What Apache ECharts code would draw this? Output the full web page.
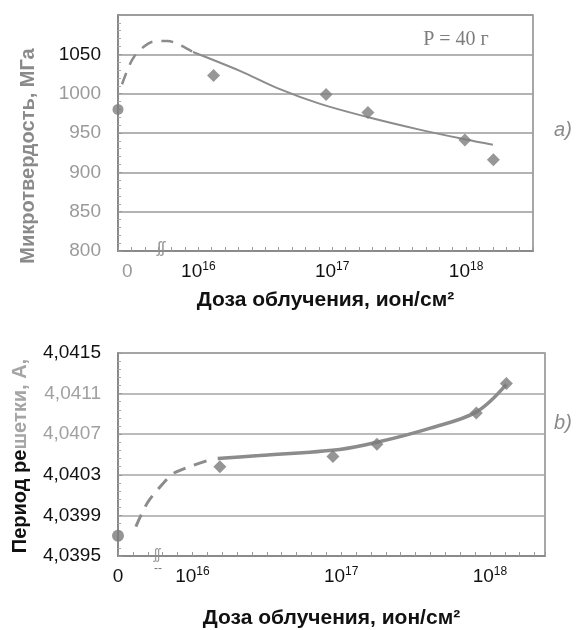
<!DOCTYPE html>
<html><head><meta charset="utf-8">
<script src="https://cdn.jsdelivr.net/npm/echarts@6/dist/echarts.min.js"></script>
<style>html,body{margin:0;padding:0;background:#fff}#c{width:578px;height:630px}</style>
</head><body><div id="c"></div><script>
// ---- Chart a): microhardness vs dose ----
const hardDose = [1.3e16, 9e16, 1.85e17, 9.8e17, 1.6e18];
const hardValue = [1023, 999, 976, 941, 916];
const hardZeroValue = 980;
const hardFitDashedLogDose = [15.43, 15.48, 15.52, 15.58, 15.66, 15.77, 15.86, 15.96];
const hardFitDashedValue = [1012, 1034, 1047, 1058, 1066, 1067, 1062, 1053];
const hardFitSolidLogDose = [15.96, 16.31, 16.59, 16.91, 17.27, 17.66, 17.99, 18.20];
const hardFitSolidValue = [1053, 1029, 1007, 987, 970, 954, 942, 935];

// ---- Chart b): lattice period vs dose ----
const latDose = [1.53e16, 8.8e16, 1.74e17, 8.1e17, 1.29e18];
const latValue = [4.04038, 4.04048, 4.04060, 4.04091, 4.04120];
const latZeroValue = 4.03970;
const latFitDashedLogDose = [15.62, 15.70, 15.83, 15.88, 15.98, 16.12];
const latFitDashedValue = [4.03979, 4.04003, 4.04026, 4.04032, 4.04038, 4.04045];
const latFitSolidLogDose = [16.17, 16.45, 16.99, 17.24, 17.60, 17.91, 18.11];
const latFitSolidValue = [4.04046, 4.04049, 4.04055, 4.04062, 4.04076, 4.04092, 4.04119];

// tick labels
const doseExponents = [16, 17, 18];
const hardTickLabels = ['800', '850', '900', '950', '1000', '1050'];
const latTickLabels = ['4,0395', '4,0399', '4,0403', '4,0407', '4,0411', '4,0415'];

// axis layout (log10 of dose; "0" dose drawn at the broken start of the axis)
const TOP_X_MIN = 15.4, TOP_X_MAX = 18.5, TOP_ZERO_LABEL = 15.47;
const BOT_X_MIN = 15.5, BOT_X_MAX = 18.37, BOT_ZERO_LABEL = 15.5;

const pts = (xs, ys) => xs.map((x, i) => [x, ys[i]]);
const logPts = (ds, ys) => ds.map((d, i) => [Math.log10(d), ys[i]]);

const GRAY = '#8a8a8a';
const FONT = '"Liberation Sans", Arial, sans-serif';

function xAxisFor(gridIndex, min, max, zeroLabel, zeroColor, gap) {
  return {
    type: 'value', gridIndex, min, max, interval: 0.1,
    name: 'Доза облучения, ион/см²', nameLocation: 'middle', nameGap: gap,
    nameTextStyle: { fontFamily: FONT, fontWeight: 'bold', fontSize: 21, color: '#111' },
    axisLine: { show: true, lineStyle: { color: GRAY, width: 2 } },
    axisTick: { show: true, inside: true, length: 4, lineStyle: { color: '#999', width: 1 } },
    splitLine: { show: false },
    axisLabel: {
      customValues: [zeroLabel].concat(doseExponents),
      margin: 10,
      formatter: v => v < 15.9 ? '{z|0}' : '{b|10}{s|' + Math.round(v) + '}',
      rich: {
        z: { fontFamily: FONT, fontSize: 19, color: zeroColor, lineHeight: 22 },
        b: { fontFamily: FONT, fontSize: 19, color: '#111', lineHeight: 22 },
        s: { fontFamily: FONT, fontSize: 12, color: '#111', verticalAlign: 'top', lineHeight: 12 }
      }
    }
  };
}

const option = {
  backgroundColor: '#fff',
  animation: false,
  grid: [
    { left: 118, right: 45, top: 15, height: 236, show: true, borderColor: GRAY, borderWidth: 1.5, containLabel: false },
    { left: 118, right: 33, top: 353, height: 204, show: true, borderColor: GRAY, borderWidth: 1.5, containLabel: false }
  ],
  xAxis: [
    xAxisFor(0, TOP_X_MIN, TOP_X_MAX, TOP_ZERO_LABEL, '#9a9a9a', 39),
    xAxisFor(1, BOT_X_MIN, BOT_X_MAX, BOT_ZERO_LABEL, '#111', 52)
  ],
  yAxis: [
    {
      type: 'value', gridIndex: 0, min: 800, max: 1100, interval: 50,
      axisLine: { show: true, lineStyle: { color: GRAY, width: 2 } },
      axisTick: { show: true, inside: true, length: 4, lineStyle: { color: '#999' } },
      minorTick: { show: true, splitNumber: 5, length: 3, lineStyle: { color: '#aaa' } },
      splitLine: { show: true, lineStyle: { color: '#9a9a9a', width: 1.5 } },
      axisLabel: {
        margin: 17, fontFamily: FONT, fontSize: 19,
        formatter: v => { const i = Math.round((v - 800) / 50); return hardTickLabels[i] || ''; },
        color: v => Math.abs(parseFloat(v) - 1050) < 1 ? '#111' : '#9a9a9a'
      }
    },
    {
      type: 'value', gridIndex: 1, min: 4.0395, max: 4.0415, interval: 0.0004,
      axisLine: { show: true, lineStyle: { color: GRAY, width: 2 } },
      axisTick: { show: true, inside: true, length: 4, lineStyle: { color: '#999' } },
      minorTick: { show: true, splitNumber: 5, length: 3, lineStyle: { color: '#aaa' } },
      splitLine: { show: true, lineStyle: { color: '#a5a5a5', width: 1.5 } },
      axisLabel: {
        margin: 17, fontFamily: FONT, fontSize: 19,
        formatter: v => { const i = Math.round((v - 4.0395) / 0.0004); return latTickLabels[i] || ''; },
        color: v => { const i = Math.round((parseFloat(v) - 4.0395) / 0.0004); return (i === 3 || i === 4) ? '#a0a0a0' : '#111'; }
      }
    }
  ],
  series: [
    { type: 'line', xAxisIndex: 0, yAxisIndex: 0, data: pts(hardFitDashedLogDose, hardFitDashedValue),
      smooth: 0.3, showSymbol: false, lineStyle: { color: '#8c8c8c', width: 2.5, type: [12, 9] }, z: 2 },
    { type: 'line', xAxisIndex: 0, yAxisIndex: 0, data: pts(hardFitSolidLogDose, hardFitSolidValue),
      smooth: 0.35, showSymbol: false, lineStyle: { color: '#8c8c8c', width: 2 }, z: 2 },
    { type: 'scatter', xAxisIndex: 0, yAxisIndex: 0, data: logPts(hardDose, hardValue),
      symbol: 'diamond', symbolSize: 13, itemStyle: { color: '#7d7d7d' }, z: 3 },
    { type: 'scatter', xAxisIndex: 0, yAxisIndex: 0, data: [[TOP_X_MIN, hardZeroValue]],
      symbol: 'circle', symbolSize: 11, itemStyle: { color: '#7d7d7d' }, z: 3 },

    { type: 'line', xAxisIndex: 1, yAxisIndex: 1, data: pts(latFitDashedLogDose, latFitDashedValue),
      smooth: 0.25, showSymbol: false, lineStyle: { color: '#8c8c8c', width: 3, type: [13, 9] }, z: 2 },
    { type: 'line', xAxisIndex: 1, yAxisIndex: 1, data: pts(latFitSolidLogDose, latFitSolidValue),
      smooth: 0.35, showSymbol: false, lineStyle: { color: '#8c8c8c', width: 3.5 }, z: 2 },
    { type: 'scatter', xAxisIndex: 1, yAxisIndex: 1, data: logPts(latDose, latValue),
      symbol: 'diamond', symbolSize: 13, itemStyle: { color: '#7a7a7a' }, z: 3 },
    { type: 'scatter', xAxisIndex: 1, yAxisIndex: 1, data: [[BOT_X_MIN, latZeroValue]],
      symbol: 'circle', symbolSize: 12, itemStyle: { color: '#7a7a7a' }, z: 3 }
  ],
  graphic: [
    { type: 'text', x: 28, y: 156, rotation: Math.PI / 2,
      style: { text: 'Микротвердость, МГа', fontFamily: FONT, fontWeight: 'bold', fontSize: 20,
        fill: '#8a8a8a', align: 'center', verticalAlign: 'middle' } },
    { type: 'text', x: 20, y: 456, rotation: Math.PI / 2,
      style: { text: '{k|Период ре}{g|шетки, А,}', align: 'center', verticalAlign: 'middle',
        rich: { k: { fontFamily: FONT, fontWeight: 'bold', fontSize: 20, fill: '#111' },
                g: { fontFamily: FONT, fontWeight: 'bold', fontSize: 20, fill: '#a5a5a5' } } } },
    { type: 'text', x: 456, y: 40,
      style: { text: 'P = 40 г', fontFamily: '"Liberation Serif", "Times New Roman", serif', fontSize: 20,
        fill: '#7d7d7d', align: 'center', verticalAlign: 'middle' } },
    { type: 'text', x: 563, y: 130,
      style: { text: 'a)', fontFamily: FONT, fontStyle: 'italic', fontSize: 20, fill: '#8a8a8a',
        align: 'center', verticalAlign: 'middle' } },
    { type: 'text', x: 563, y: 423,
      style: { text: 'b)', fontFamily: FONT, fontStyle: 'italic', fontSize: 20, fill: '#8a8a8a',
        align: 'center', verticalAlign: 'middle' } },
    { type: 'text', x: 161, y: 248,
      style: { text: 'ʃʃ', fontFamily: FONT, fontSize: 17, fill: '#9a9a9a', align: 'center', verticalAlign: 'middle' } },
    { type: 'text', x: 157, y: 555,
      style: { text: 'ʃʃ', fontFamily: FONT, fontSize: 14, fill: '#9a9a9a', align: 'center', verticalAlign: 'middle' } },
    { type: 'text', x: 158, y: 569,
      style: { text: '--', fontFamily: FONT, fontSize: 12, fill: '#777', align: 'center', verticalAlign: 'middle' } }
  ]
};

const chart = echarts.init(document.getElementById('c'), null, { renderer: 'canvas' });
chart.setOption(option);
</script></body></html>
